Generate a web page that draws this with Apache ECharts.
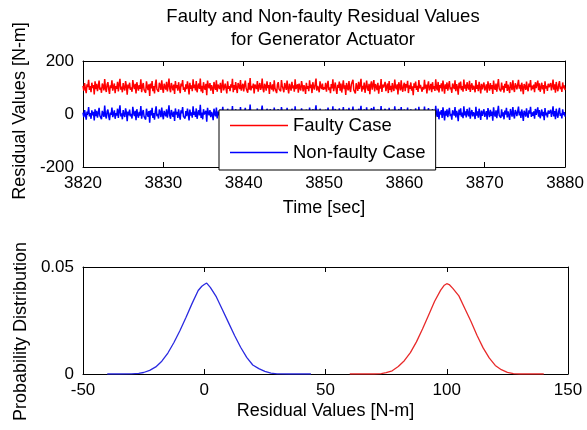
<!DOCTYPE html>
<html><head><meta charset="utf-8">
<script src="https://cdn.jsdelivr.net/npm/echarts@6/dist/echarts.min.js"></script>
<style>html,body{margin:0;padding:0;background:#fff}#c{width:587px;height:430px}</style>
</head><body><div id="c"></div>
<script>
const chartTitle = 'Faulty and Non-faulty Residual Values\nfor Generator Actuator';
const seriesNames = ['Faulty Case', 'Non-faulty Case'];
const timeStart = 3820;
const timeStep = 0.1;
const faultyResidual = [
106,88,117,95,79,112,102,129,91,105,82,118,98,109,74,123,94,114,86,103,
126,92,100,80,115,106,89,132,97,83,111,120,94,76,108,98,127,88,102,115,
79,105,95,121,85,112,133,92,103,82,117,98,89,124,106,73,111,97,118,91,
100,84,128,105,94,114,78,120,102,88,109,95,131,82,106,117,92,98,80,123,
103,90,112,68,115,97,124,86,105,78,111,130,94,100,84,118,108,91,127,98,
80,114,102,92,121,85,106,134,95,82,117,103,89,111,76,124,98,109,88,120,
97,79,115,105,128,91,100,84,112,94,123,102,74,118,95,108,86,131,98,111,
89,124,82,103,115,95,134,85,106,79,120,100,92,114,71,126,105,97,117,88,
109,98,76,121,102,91,127,84,111,103,94,118,80,106,130,89,100,115,97,78,
123,95,105,86,112,100,133,82,109,91,120,98,79,117,106,94,128,88,103,114,
85,108,126,97,102,80,118,92,136,89,106,98,115,78,111,103,94,124,84,105,
117,91,100,134,95,82,114,105,88,123,98,109,76,120,102,92,112,85,127,97,
103,79,111,120,94,100,86,128,106,95,82,117,105,91,126,98,78,114,102,88,
121,97,108,84,131,94,103,112,80,115,98,89,124,106,85,109,100,76,118,95,
105,86,127,98,111,79,120,102,92,114,134,88,106,97,82,123,103,94,115,91,
101,
93,118,84,107,125,90,101,79,113,97,131,86,104,119,92,76,110,99,122,88,
115,81,103,127,94,108,72,117,100,89,124,96,83,112,105,129,91,98,78,116,
102,87,121,95,110,133,84,106,93,119,80,101,126,97,88,114,75,109,123,92,
99,128,85,113,104,90,118,77,107,96,132,83,111,100,94,121,86,103,115,79,
124,91,106,82,117,98,87,130,102,93,112,74,120,105,89,127,96,84,109,118,
86,113,100,125,79,108,95,119,88,104,71,116,99,122,91,106,83,128,97,110,
117,84,102,92,129,96,111,78,107,123,89,100,114,82,120,94,105,87,131,99,
90,121,81,109,98,116,85,126,103,77,112,95,119,88,106,124,93,101,80,115,
108,94,127,86,113,100,73,118,97,122,90,105,84,130,96,111,87,120,102,92,
125,83,104,116,91,107,99,82,128,95,110,86,121,101,78,114,93,106,119,89,
97,112,80,123,103,88,117,94,109,76,126,100,91,115,84,108,132,96,102,85,
119,92,106,81,114,99,124,87,111,95,79,120,104,90,127,98,83,116,107,93,
88,129,96,110,85,118,101,75,113,105,91,122,97,86,115,102,128,89,107,94,
111,82,120,98,104,126,90,116,84,100,118,93,109,77,123,96,106,87,114,101,
96,117,89,105,130,92,112,80,121,99,86,110,124,94,103,83,119,97,108,90];
const nonFaultyResidual = [
5,-12,15,-3,-21,9,0,26,-9,3,-18,14,-5,8,-24,18,-8,12,-14,2,
23,-6,-2,-20,12,6,-11,32,-5,-17,9,17,-8,-23,5,-3,24,-12,0,14,
-18,3,-6,20,-15,11,33,-9,2,-20,15,-2,-11,21,6,-27,9,-5,17,-9,
0,-17,27,3,-8,12,-23,18,-2,-14,8,-6,30,-18,5,15,-9,-3,-21,20,
2,-11,11,-33,14,-5,23,-15,3,-21,9,29,-8,0,-17,17,6,-12,24,-3,
-20,12,0,-9,18,-14,5,33,-6,-18,15,2,-11,9,-26,21,-2,8,-15,18,
-5,-21,14,3,26,-9,-2,-17,11,-8,20,0,-24,17,-6,6,-14,29,-3,9,
-11,21,-18,2,14,-5,35,-15,5,-20,18,-2,-9,12,-29,23,3,-5,15,-12,
8,-3,-23,20,0,-9,24,-17,9,2,-8,17,-18,5,27,-11,-2,14,-3,-21,
20,-6,3,-14,11,-2,30,-18,8,-9,18,-3,-21,15,5,-8,26,-12,2,12,
-15,6,23,-5,0,-20,17,-8,36,-11,5,-3,14,-23,9,2,-6,21,-17,3,
15,-9,-2,32,-5,-18,12,3,-12,20,-3,8,-24,18,0,-8,11,-15,24,-5,
2,-21,9,18,-6,-2,-14,26,5,-5,-18,15,3,-9,23,-3,-23,12,0,-12,
20,-3,6,-17,29,-8,2,11,-20,14,-3,-11,21,5,-15,8,-2,-24,17,-6,
3,-14,24,-3,9,-21,18,0,-8,12,33,-12,5,-5,-18,20,2,-8,14,-11,
0,
-8,17,-19,6,24,-12,1,-22,13,-4,29,-14,3,19,-9,-25,10,-2,21,-13,
14,-20,2,26,-7,9,-28,16,0,-11,23,-5,-17,12,4,28,-10,-3,-23,15,
1,-13,20,-6,10,31,-16,6,-8,18,-21,0,25,-4,-12,13,-26,8,22,-9,
-2,27,-15,12,3,-10,17,-24,7,-5,30,-18,11,0,-7,20,-14,2,15,-22,
23,-9,5,-19,16,-3,-13,29,1,-8,11,-27,19,4,-12,26,-5,-16,9,17,
-14,12,0,24,-21,8,-6,18,-12,3,-30,15,-2,21,-10,5,-18,27,-4,10,
16,-17,2,-8,28,-5,11,-23,7,22,-11,0,13,-19,19,-7,4,-14,31,-1,
-10,20,-20,9,-2,15,-15,25,3,-24,12,-6,18,-12,6,23,-8,1,-21,14,
7,-6,26,-13,12,0,-27,17,-4,21,-10,5,-16,29,-5,10,-13,19,2,-9,
24,-18,4,15,-9,7,-1,-19,27,-6,10,-14,20,1,-22,13,-7,6,18,-11,
-4,11,-21,22,3,-12,16,-7,9,-25,25,0,-10,14,-16,8,31,-5,2,-15,
18,-9,6,-20,13,-2,23,-13,10,-6,-22,19,4,-10,26,-3,-17,15,7,-8,
-12,28,-5,9,-15,17,0,-26,12,4,-10,21,-4,-14,14,2,27,-11,6,-7,
10,-18,19,-3,3,25,-10,15,-16,0,17,-8,8,-23,22,-5,5,-13,13,1,
-5,16,-11,4,29,-9,11,-20,20,-2,-14,9,23,-7,2,-17,18,-4,7,-10];
const pdfNonFaultyX = [-40,-35,-30,-27,-25,-22.5,-20,-17.5,-15,-12.5,-10,-7.5,-5,-2.5,-1,0,1,2.5,5,7.5,10,12.5,15,17.5,20,22.5,25,27.5,30,35,40,44];
const pdfNonFaultyY = [0,0,0.0001,0.0003,0.0007,0.0017,0.0033,0.0060,0.0098,0.0147,0.0203,0.0265,0.0330,0.0390,0.0410,0.0418,0.0425,0.0405,0.0360,0.0300,0.0240,0.0180,0.0125,0.0078,0.0042,0.0025,0.0012,0.0004,0.0001,0,0,0];
const pdfFaultyX = [60,65,70,73,75,77.5,80,82.5,85,87.5,90,92.5,95,97.5,99,100,101,102.5,105,107.5,110,112.5,115,117.5,120,122.5,125,127.5,130,135,140];
const pdfFaultyY = [0,0,0,0.0002,0.0006,0.0015,0.0035,0.0062,0.0100,0.0150,0.0210,0.0275,0.0340,0.0392,0.0415,0.0422,0.0418,0.0400,0.0365,0.0305,0.0245,0.0180,0.0122,0.0075,0.0040,0.0020,0.0008,0.0002,0,0,0];

const FONT = "'Liberation Sans', Arial, sans-serif";
const pairT = arr => arr.map((v, i) => [timeStart + i * timeStep, v]);
const pairXY = (xs, ys) => xs.map((x, i) => [x, ys[i]]);

const labelStyle = { color: '#000', fontSize: 17, fontFamily: FONT };
const nameStyle = { color: '#000', fontSize: 18, fontFamily: FONT };
const tickIn = { show: true, inside: true, length: 5, lineStyle: { color: '#000' } };
const plain = v => String(v);
function mainX(gi, min, max, interval, name, gap) {
  return { gridIndex: gi, type: 'value', min, max, interval, position: 'bottom',
    axisLine: { show: true, onZero: false, lineStyle: { color: '#000' } },
    axisTick: tickIn, splitLine: { show: false },
    axisLabel: Object.assign({ margin: 8, formatter: plain }, labelStyle),
    name, nameLocation: 'middle', nameGap: gap, nameTextStyle: nameStyle };
}
function sideX(gi, min, max, interval) {
  return { gridIndex: gi, type: 'value', min, max, interval, position: 'top',
    axisLine: { show: true, onZero: false, lineStyle: { color: '#000' } },
    axisTick: tickIn, axisLabel: { show: false }, splitLine: { show: false } };
}
function mainY(gi, min, max, interval, name, gap, pad) {
  return { gridIndex: gi, type: 'value', min, max, interval, position: 'left',
    axisLine: { show: true, onZero: false, lineStyle: { color: '#000' } },
    axisTick: tickIn, splitLine: { show: false },
    axisLabel: Object.assign({ margin: 9, formatter: plain }, labelStyle),
    name, nameLocation: 'middle', nameGap: gap,
    nameTextStyle: Object.assign({ padding: pad }, nameStyle) };
}
function sideY(gi, min, max, interval) {
  return { gridIndex: gi, type: 'value', min, max, interval, position: 'right',
    axisLine: { show: true, onZero: false, lineStyle: { color: '#000' } },
    axisTick: tickIn, axisLabel: { show: false }, splitLine: { show: false } };
}

const chart = echarts.init(document.getElementById('c'), null, { renderer: 'canvas' });
chart.setOption({
  animation: false,
  backgroundColor: '#fff',
  textStyle: { fontFamily: FONT },
  title: { text: chartTitle, left: 318, top: 0, textAlign: 'center',
    textStyle: { color: '#000', fontSize: 18.5, fontWeight: 'normal', lineHeight: 23, fontFamily: FONT } },
  grid: [
    { left: 83, top: 61, width: 485, height: 106 },
    { left: 83, top: 267, width: 485, height: 107 }
  ],
  xAxis: [
    mainX(0, 3820, 3880, 10, 'Time [sec]', 32),
    sideX(0, 3820, 3880, 10),
    mainX(1, -50, 150, 50, 'Residual Values [N-m]', 28),
    sideX(1, -50, 150, 50)
  ],
  yAxis: [
    mainY(0, -200, 200, 200, 'Residual Values [N-m]', 50, [0, 0, 0, 6]),
    sideY(0, -200, 200, 200),
    mainY(1, 0, 0.05, 0.05, 'Probability Distribution', 50, [0, 22, 0, 0]),
    sideY(1, 0, 0.05, 0.05)
  ],
  legend: {
    data: seriesNames, orient: 'vertical', left: 219, top: 110,
    padding: [6, 10, 8, 11], itemGap: 8, itemWidth: 58, itemHeight: 1.3, itemTextGap: 5,
    icon: 'rect',
    backgroundColor: '#fff', borderColor: '#000', borderWidth: 1,
    textStyle: { color: '#000', fontSize: 18.5, lineHeight: 18, fontFamily: FONT }
  },
  series: [
    { name: seriesNames[0], type: 'line', xAxisIndex: 0, yAxisIndex: 0, symbol: 'none',
      data: pairT(faultyResidual), lineStyle: { color: '#ff0000', width: 1.5 }, itemStyle: { color: '#ff0000' } },
    { name: seriesNames[1], type: 'line', xAxisIndex: 0, yAxisIndex: 0, symbol: 'none',
      data: pairT(nonFaultyResidual), lineStyle: { color: '#0000ff', width: 1.5 }, itemStyle: { color: '#0000ff' } },
    { name: 'PDF Non-faulty', type: 'line', xAxisIndex: 2, yAxisIndex: 2, symbol: 'none',
      data: pairXY(pdfNonFaultyX, pdfNonFaultyY), lineStyle: { color: '#2a2ae0', width: 1.3 } },
    { name: 'PDF Faulty', type: 'line', xAxisIndex: 2, yAxisIndex: 2, symbol: 'none',
      data: pairXY(pdfFaultyX, pdfFaultyY), lineStyle: { color: '#e82a2a', width: 1.3 } }
  ]
});
</script>
</body></html>
